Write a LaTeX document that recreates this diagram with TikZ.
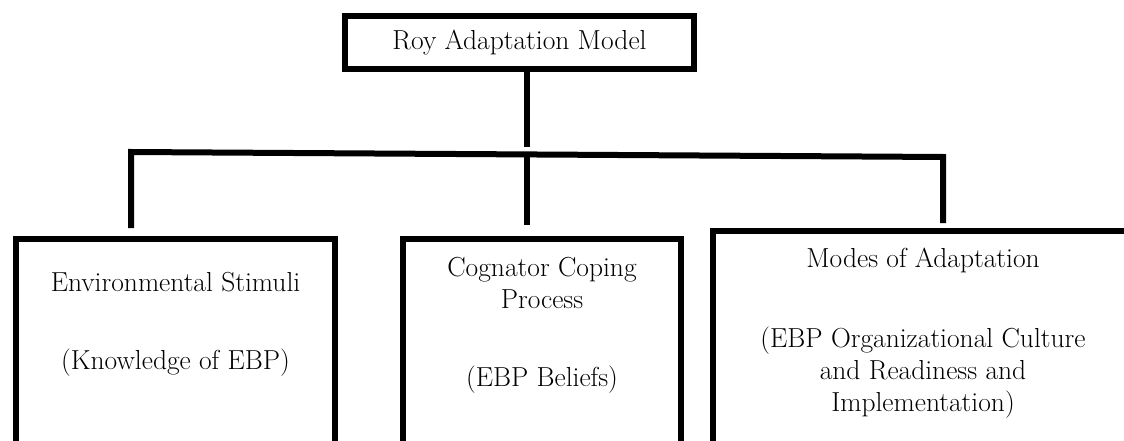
\documentclass[tikz,border=0pt]{standalone}
\usepackage{tikz}
\usetikzlibrary{positioning}

\begin{document}
\begin{tikzpicture}[x=1pt, y=-1pt, box/.style={draw, line width=6pt, inner sep=0pt}, lbl/.style={align=center, inner sep=0pt, font=\fontsize{27.5}{32}\selectfont}, link/.style={line width=6pt}]
\useasboundingbox (0,0) rectangle (1124,441);
\clip (0,0) rectangle (1124,441);
\node[box, lbl, minimum width=349pt, minimum height=53pt] (roy) at (519.5,42.5) {Roy Adaptation Model};
\node[box, anchor=north west, minimum width=319pt, minimum height=260pt] (env) at (13,236) {};
\node[box, anchor=north west, minimum width=278pt, minimum height=260pt] (cog) at (400,236) {};
\node[box, anchor=north west, minimum width=420pt, minimum height=260pt] (modes) at (710,228) {};
\node[lbl, below=36pt of env.north] (envtxt) {Environmental Stimuli\\[46pt](Knowledge of EBP)};
\node[lbl, below=21pt of cog.north] (cogtxt) {Cognator Coping\\Process\\[46pt](EBP Beliefs)};
\node[lbl, below=20pt of modes.north] (modestxt) {Modes of Adaptation\\[48pt](EBP Organizational Culture\\and Readiness and\\Implementation)};
\coordinate (bm) at (527,147);
\coordinate (bl) at (131,152);
\coordinate (br) at (943,157);
\coordinate (mj) at (527,154);
\coordinate (dl) at (131,228);
\coordinate (dm) at (527,225);
\coordinate (dr) at (943,223);
\draw[link] (roy.south -| bm) -- (bm);
\draw[link] (dl) -- (bl) -- (br) -- (dr);
\draw[link] (mj) -- (dm);
\end{tikzpicture}
\end{document}
